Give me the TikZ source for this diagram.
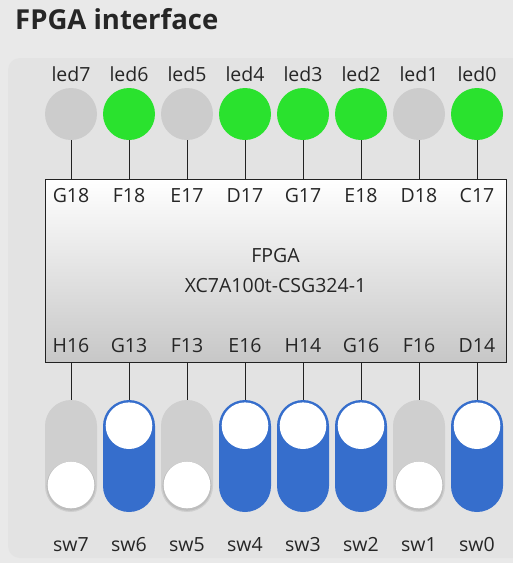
\documentclass[tikz,border=0pt]{standalone}
\usepackage{fontspec}
\setmainfont{Open Sans}
\definecolor{pagebg}{HTML}{E9E9E9}
\definecolor{panelbg}{HTML}{E3E3E3}
\definecolor{ledoffc}{HTML}{CCCCCC}
\definecolor{ledonc}{HTML}{2AE22E}
\definecolor{swonc}{HTML}{366ECC}
\definecolor{swoffc}{HTML}{CFCFCF}
\definecolor{txt}{HTML}{262626}
\definecolor{wirec}{HTML}{222222}
\definecolor{shadowc}{HTML}{BDBDBD}
\tikzset{
  lbl/.style={inner sep=0pt, anchor=base, text=txt, font=\fontsize{19.5}{22}\selectfont},
  led/.style={circle, inner sep=0pt, minimum size=52pt},
  ledst0/.style={fill=ledoffc},
  ledst1/.style={fill=ledonc},
  track/.style={rectangle, rounded corners=26pt, inner sep=0pt, minimum width=52pt, minimum height=112pt},
  trackst0/.style={fill=swoffc},
  trackst1/.style={fill=swonc},
  knob/.style={circle, inner sep=0pt, minimum size=46.6pt, fill=white},
  wire/.style={draw=wirec, line width=1pt},
  chip/.style={rectangle, draw=wirec, line width=1pt, top color=white, bottom color=black!22, inner sep=0pt, minimum width=461pt, minimum height=183pt}
}
\begin{document}
\begin{tikzpicture}[x=1pt,y=-1pt]
\fill[pagebg] (0,0) rectangle (513,563);
\useasboundingbox (0,0) rectangle (513,563);
\fill[panelbg, rounded corners=12pt] (8,58) rectangle (540,558);
\node[anchor=base west, inner sep=0pt, text=txt, font=\fontsize{27.5}{32}\selectfont\bfseries] (title) at (15,29) {FPGA interface};
\node[chip] (fpga) at (275.5,270.5) {};
\node[lbl] (fpganame) at (275.5,262.5) {FPGA};
\node[lbl] (fpgapart) at (275.5,292.5) {XC7A100t-CSG324-1};
\foreach \i/\st/\tp/\bp in {7/0/G18/H16, 6/1/F18/G13, 5/0/E17/F13, 4/1/D17/E16, 3/1/G17/H14, 2/1/E18/G16, 1/0/D18/F16, 0/1/C17/D14} {
  \pgfmathsetmacro\cx{71+58*(7-\i)}
  \pgfmathsetmacro\ky{485-59.3*\st}
  \node[lbl] (ledlbl\i) at (\cx,81) {led\i};
  \node[led, ledst\st] (led\i) at (\cx,114) {};
  \node[lbl] (tpin\i) at (\cx,202) {\tp};
  \node[lbl] (bpin\i) at (\cx,352.7) {\bp};
  \node[track, trackst\st] (sw\i) at (\cx,456) {};
  \ifnum\st=0
    \fill[shadowc] (\cx,\ky+1.2) circle (24.6);
  \fi
  \node[knob] (knob\i) at (\cx,\ky) {};
  \node[lbl] (swlbl\i) at (\cx,551.7) {sw\i};
  \draw[wire] (led\i) -- (led\i |- fpga.north);
  \draw[wire] (fpga.south -| sw\i.north) -- (sw\i.north);
}
\end{tikzpicture}
\end{document}
